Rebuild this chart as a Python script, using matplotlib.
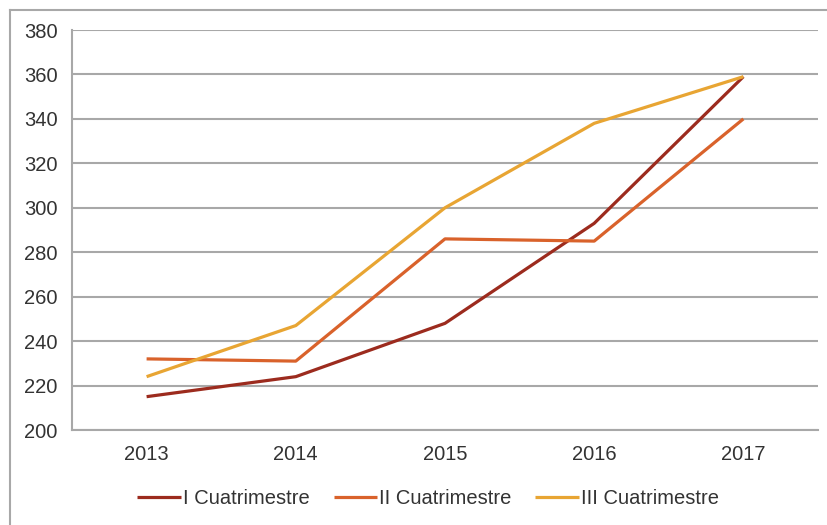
import matplotlib
matplotlib.use("Agg")
import matplotlib.pyplot as plt
from matplotlib.lines import Line2D

# data
years = ["2013", "2014", "2015", "2016", "2017"]
cuatri_1 = [215, 224, 248, 293, 359]
cuatri_2 = [232, 231, 286, 285, 340]
cuatri_3 = [224, 247, 300, 338, 359]
labels = ["I Cuatrimestre", "II Cuatrimestre", "III Cuatrimestre"]
colors = ["#9c2b1e", "#d9622b", "#e8a533"]
yticks = list(range(200, 381, 20))

plt.rcParams["font.family"] = ["Liberation Sans", "DejaVu Sans"]

fig = plt.figure(figsize=(8.28, 5.25), dpi=100)
ax = fig.add_axes([72 / 828, 1 - 430 / 525, (818 - 72) / 828, 400 / 525])

x = list(range(len(years)))
for vals, lab, col in zip([cuatri_1, cuatri_2, cuatri_3], labels, colors):
    ax.plot(x, vals, color=col, lw=2.3, label=lab, solid_capstyle="butt")

ax.set_xlim(-0.5, len(years) - 0.5)
ax.set_ylim(200, 380)
ax.set_yticks(yticks)
ax.set_xticks(x)
ax.set_xticklabels(years)
ax.grid(axis="y", color="#a8a8a8", lw=1.5)
ax.set_axisbelow(True)
for s in ["top", "right"]:
    ax.spines[s].set_visible(False)
for s in ["left", "bottom"]:
    ax.spines[s].set_color("#a8a8a8")
    ax.spines[s].set_linewidth(1.5)
ax.tick_params(length=0, labelsize=14.5, colors="#333333")
ax.tick_params(axis="y", pad=10.5)
ax.tick_params(axis="x", pad=11)

ax.legend(loc="center", bbox_to_anchor=(428 / 828, 1 - 499 / 525),
          bbox_transform=fig.transFigure, ncol=3, frameon=False,
          fontsize=14.5, handlelength=2.15, handletextpad=0.1,
          columnspacing=1.2, labelcolor="#333333")

# outer frame (cut off at right and bottom)
fig.add_artist(Line2D([10 / 828, 1], [1 - 10 / 525, 1 - 10 / 525], color="#a8a8a8", lw=1.5))
fig.add_artist(Line2D([10 / 828, 10 / 828], [0, 1 - 10 / 525], color="#a8a8a8", lw=1.5))

fig.savefig("out.png", dpi=100)
